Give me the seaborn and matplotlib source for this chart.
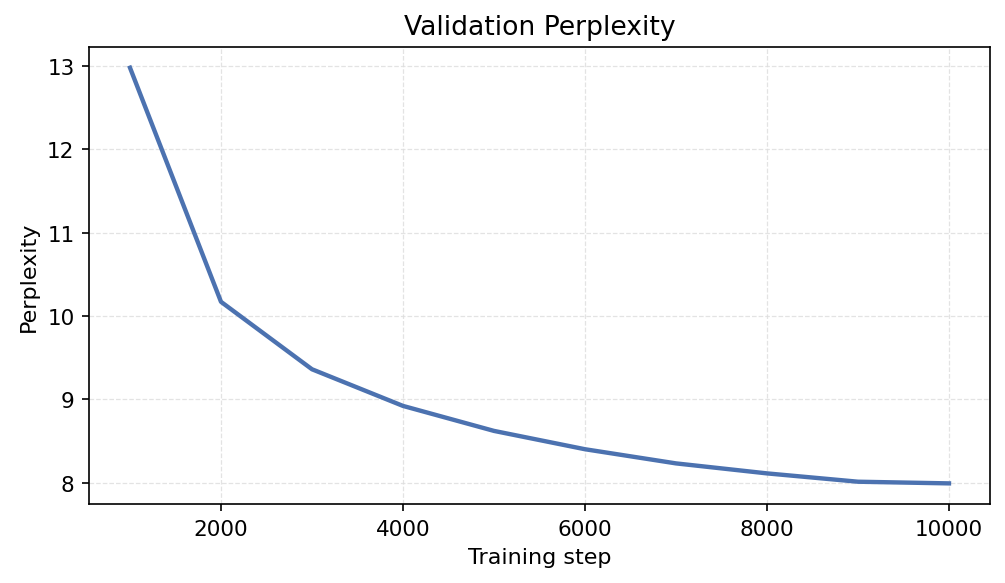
import matplotlib
matplotlib.use("Agg")
import matplotlib.pyplot as plt
import seaborn as sns
import pandas as pd

# validation perplexity
steps = [1000, 2000, 3000, 4000, 5000, 6000, 7000, 8000, 9000, 10000]
perplexity = [12.98, 10.17, 9.36, 8.92, 8.62, 8.40, 8.23, 8.11, 8.01, 7.99]

df = pd.DataFrame({"step": steps, "ppl": perplexity})

plt.rcParams["font.family"] = ["DejaVu Sans"]

fig, ax = plt.subplots(figsize=(6.7, 3.893), dpi=150)
sns.lineplot(data=df, x="step", y="ppl", ax=ax, color="#4C72B0", linewidth=2.1)

ax.grid(True, linestyle="--", linewidth=0.6, color="#dddddd", alpha=0.8)
ax.set_axisbelow(True)
ax.set_title("Validation Perplexity", fontsize=12.8)
ax.set_xlabel("Training step", fontsize=10.7)
ax.set_ylabel("Perplexity", fontsize=10.7)
ax.tick_params(labelsize=10.3)
ax.set_xticks([2000, 4000, 6000, 8000, 10000])

fig.subplots_adjust(left=0.0886, right=0.985, top=0.918, bottom=0.135)
fig.savefig("out.png", dpi=150)
